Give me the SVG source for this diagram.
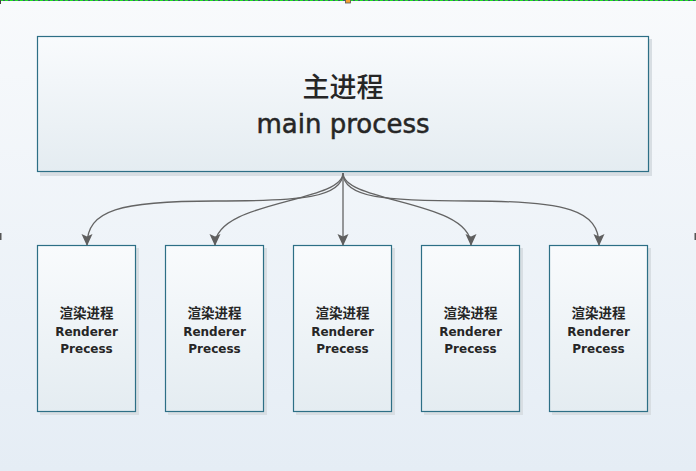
<svg xmlns="http://www.w3.org/2000/svg" width="696" height="471" viewBox="0 0 696 471">
<defs>
<linearGradient id="bg" x1="0" y1="0" x2="0" y2="1">
<stop offset="0" stop-color="#f8fafc"/>
<stop offset="1" stop-color="#e5edf5"/>
</linearGradient>
<linearGradient id="box" x1="0" y1="0" x2="0" y2="1">
<stop offset="0" stop-color="#f9fbfd"/>
<stop offset="1" stop-color="#e4ecf1"/>
</linearGradient>
<marker id="arr" viewBox="0 0 12 12" refX="11" refY="6" markerWidth="12" markerHeight="12" markerUnits="userSpaceOnUse" orient="auto">
<path d="M0,0.5 L12,6 L0,11.5 L2.5,6 z" fill="#5f5f5f"/>
</marker>
<style>
.shadow{fill:#d8dee3}
.node{fill:url(#box);stroke:#2d6f86;stroke-width:1.2}
.conn{fill:none;stroke:#646464;stroke-width:1.3;marker-end:url(#arr)}
.big{font-family:"DejaVu Sans","Noto Sans CJK SC",sans-serif;font-size:26px;fill:#262626;stroke:#262626;stroke-width:0.5;text-anchor:middle}
.cn{font-family:"Noto Sans CJK SC",sans-serif;font-size:27px;font-weight:500;fill:#262626;text-anchor:middle}
.sm{font-family:"DejaVu Sans","Noto Sans CJK SC",sans-serif;font-size:12px;font-weight:bold;fill:#262626;text-anchor:middle}
.smcn{font-family:"Noto Sans CJK SC",sans-serif;font-size:13.5px;font-weight:bold;fill:#262626;text-anchor:middle}
</style>
</defs>
<rect x="0" y="0" width="696" height="471" fill="url(#bg)"/>
<line x1="0" y1="0.5" x2="696" y2="0.5" stroke="#3a5a70" stroke-width="1"/>
<line x1="0" y1="0.5" x2="696" y2="0.5" stroke="#22e022" stroke-width="1.2" stroke-dasharray="3,2"/>
<rect x="0" y="0" width="1" height="4" fill="#444"/>
<rect x="345.5" y="-1" width="5" height="4" fill="#f5a030" stroke="#555" stroke-width="0.8"/>
<rect x="0" y="233" width="1.5" height="7" fill="#555"/>
<rect x="694.5" y="233" width="1.5" height="7" fill="#555"/>

<g id="main">
<rect class="shadow" x="40" y="39" width="612" height="137"/>
<rect class="node" x="37.5" y="36.5" width="611" height="135"/>
<text class="cn" x="343" y="97">主进程</text>
<text class="big" x="343" y="133">main process</text>
</g>

<g id="r1">
<rect class="shadow" x="40" y="248" width="99" height="167"/>
<rect class="node" x="37.5" y="245.5" width="98" height="166"/>
<text class="smcn" x="86.5" y="318">渲染进程</text>
<text class="sm" x="86.5" y="336">Renderer</text>
<text class="sm" x="86.5" y="353">Precess</text>
</g>
<g id="r2">
<rect class="shadow" x="168" y="248" width="99" height="167"/>
<rect class="node" x="165.5" y="245.5" width="98" height="166"/>
<text class="smcn" x="214.5" y="318">渲染进程</text>
<text class="sm" x="214.5" y="336">Renderer</text>
<text class="sm" x="214.5" y="353">Precess</text>
</g>
<g id="r3">
<rect class="shadow" x="296" y="248" width="99" height="167"/>
<rect class="node" x="293.5" y="245.5" width="98" height="166"/>
<text class="smcn" x="342.5" y="318">渲染进程</text>
<text class="sm" x="342.5" y="336">Renderer</text>
<text class="sm" x="342.5" y="353">Precess</text>
</g>
<g id="r4">
<rect class="shadow" x="424" y="248" width="99" height="167"/>
<rect class="node" x="421.5" y="245.5" width="98" height="166"/>
<text class="smcn" x="470.5" y="318">渲染进程</text>
<text class="sm" x="470.5" y="336">Renderer</text>
<text class="sm" x="470.5" y="353">Precess</text>
</g>
<g id="r5">
<rect class="shadow" x="552" y="248" width="99" height="167"/>
<rect class="node" x="549.5" y="245.5" width="98" height="166"/>
<text class="smcn" x="598.5" y="318">渲染进程</text>
<text class="sm" x="598.5" y="336">Renderer</text>
<text class="sm" x="598.5" y="353">Precess</text>
</g>

<g id="connectors">
<path class="conn" d="M343,173 C343,198 300,201 215,201 C120,201 87,210 87,245"/>
<path class="conn" d="M343,173 C343,203 215,200 215,245"/>
<path class="conn" d="M343,173 L343,245"/>
<path class="conn" d="M343,173 C343,203 471,200 471,245"/>
<path class="conn" d="M343,173 C343,198 386,201 471,201 C566,201 599,210 599,245"/>
</g>
</svg>
